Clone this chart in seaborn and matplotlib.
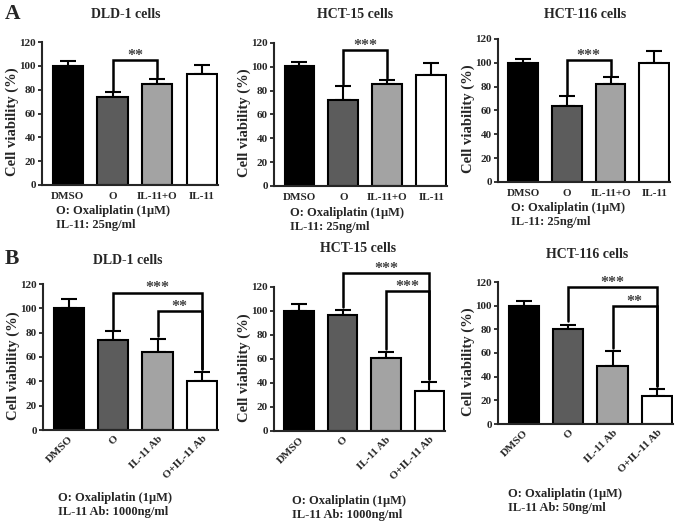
import numpy as np
import pandas as pd
import matplotlib
matplotlib.use("Agg")
import matplotlib.pyplot as plt
import seaborn as sns

sns.set_style('ticks')
plt.rcParams['font.family'] = ['Liberation Serif', 'DejaVu Serif']
plt.rcParams['font.weight'] = 'bold'
plt.rcParams['axes.labelweight'] = 'bold'

# Row A data
cats_a = ['DMSO', 'O', 'IL-11+O', 'IL-11']
dld1_a_mean = [100, 74, 85, 93]
dld1_a_sd = [4, 4, 4, 8]
hct15_a_mean = [101, 72, 86, 93]
hct15_a_sd = [3, 12, 3, 10]
hct116_a_mean = [100, 64, 82, 100]
hct116_a_sd = [3, 8, 6, 10]

# Row B data
cats_b = ['DMSO', 'O', 'IL-11 Ab', 'O+IL-11 Ab']
dld1_b_mean = [100, 74, 64, 40]
dld1_b_sd = [8, 7, 11, 8]
hct15_b_mean = [100, 97, 61, 33]
hct15_b_sd = [6, 4, 5, 8]
hct116_b_mean = [100, 80, 49, 24]
hct116_b_sd = [4, 4, 13, 6]

bar_colors = ['#000000', '#5c5c5c', '#a3a3a3', '#ffffff']

W, H = 685, 521
fig = plt.figure(figsize=(6.85, 5.21), dpi=100)


def px_axes(left, right, bottom, top):
    ax = fig.add_axes([left / W, 1 - bottom / H, (right - left) / W, (bottom - top) / H])
    ax._px = (left, right, bottom, top)
    return ax


def bracket(ax, x1, x2, y, y1, y2, label):
    ax.plot([x1, x1, x2, x2], [y1, y, y, y2], color='black', lw=1.8, clip_on=False,
            solid_joinstyle='miter')
    ax.text((x1 + x2) / 2, y + 3.5, label, ha='center', va='center', fontsize=11.5,
            color='#404040', clip_on=False)


def draw_panel(ax, cats, mean, sd, rotate=False):
    df = pd.DataFrame({'group': cats, 'viability': mean})
    sns.barplot(data=df, x='group', y='viability', hue='group', palette=bar_colors,
                order=cats, hue_order=cats, legend=False, width=0.68,
                edgecolor='black', linewidth=1.5, errorbar=None, ax=ax, zorder=2)
    ax.errorbar(np.arange(len(cats)), mean, yerr=[np.zeros(len(sd)), sd], fmt='none',
                ecolor='black', elinewidth=1.5, capsize=5.5, capthick=1.5, zorder=1)
    ax.set_ylim(0, 120)
    ax.set_xlim(-0.58, 3.36)
    ax.set_yticks(range(0, 121, 20))
    ax.set_xlabel('')
    ax.set_ylabel('Cell viability (%)', fontsize=10.5)
    left, right, bottom, top = ax._px
    ax.yaxis.set_label_coords(-23 / (right - left), 0.44)
    for s in ['left', 'bottom']:
        ax.spines[s].set_linewidth(1.5)
    sns.despine(ax=ax)
    ax.tick_params(axis='y', width=1.3, length=3, labelsize=8, pad=1.5)
    ax.tick_params(axis='x', length=0, labelsize=8, pad=5)
    if rotate:
        ax.set_xticks(range(len(cats)))
        ax.set_xticklabels(cats, rotation=45, ha='right', rotation_mode='anchor')
        ax.tick_params(axis='x', pad=3)
    for lab in ax.get_xticklabels() + ax.get_yticklabels():
        lab.set_fontweight('bold')


# Row A
axA1 = px_axes(42, 218, 185, 42)
draw_panel(axA1, cats_a, dld1_a_mean, dld1_a_sd)
bracket(axA1, 1, 2, 105, 79, 91, '**')

axA2 = px_axes(274, 447, 186, 43)
draw_panel(axA2, cats_a, hct15_a_mean, hct15_a_sd)
bracket(axA2, 1, 2, 114, 86, 91, '***')

axA3 = px_axes(498, 670, 182, 39)
draw_panel(axA3, cats_a, hct116_a_mean, hct116_a_sd)
bracket(axA3, 1, 2, 102, 73, 89, '***')

# Row B
axB1 = px_axes(43, 218, 430, 284)
draw_panel(axB1, cats_b, dld1_b_mean, dld1_b_sd, rotate=True)
bracket(axB1, 1, 3, 113, 83, 50, '***')
bracket(axB1, 2, 3, 98, 77, 50, '**')

axB2 = px_axes(274, 445, 431, 287)
draw_panel(axB2, cats_b, hct15_b_mean, hct15_b_sd, rotate=True)
bracket(axB2, 1, 3, 131.5, 103, 43, '***')
bracket(axB2, 2, 3, 116.5, 68, 43, '***')

axB3 = px_axes(498, 673, 424, 282)
draw_panel(axB3, cats_b, hct116_b_mean, hct116_b_sd, rotate=True)
bracket(axB3, 1, 3, 116, 87, 32, '***')
bracket(axB3, 2, 3, 100, 64, 32, '**')

# titles, panel letters, notes
titles = [('DLD-1 cells', 126, 15), ('HCT-15 cells', 355, 15), ('HCT-116 cells', 585, 15),
          ('DLD-1 cells', 128, 260), ('HCT-15 cells', 358, 248), ('HCT-116 cells', 587, 255)]
for t, x, y in titles:
    fig.text(x / W, 1 - y / H, t, ha='center', va='center', fontsize=10, fontweight='bold')

fig.text(5 / W, 1 - 14 / H, 'A', ha='left', va='center', fontsize=15.5, fontweight='bold')
fig.text(5 / W, 1 - 259 / H, 'B', ha='left', va='center', fontsize=15.5, fontweight='bold')

note_o = 'O: Oxaliplatin (1\u03bcM)'
notes = [(note_o, 'IL-11: 25ng/ml', 56, 211),
         (note_o, 'IL-11: 25ng/ml', 290, 213),
         (note_o, 'IL-11: 25ng/ml', 511, 208),
         (note_o, 'IL-11 Ab: 1000ng/ml', 58, 498),
         (note_o, 'IL-11 Ab: 1000ng/ml', 292, 501),
         (note_o, 'IL-11 Ab: 50ng/ml', 508, 494)]
for t1, t2, x, y in notes:
    fig.text(x / W, 1 - y / H, t1, ha='left', va='center', fontsize=9, fontweight='bold')
    fig.text(x / W, 1 - (y + 14) / H, t2, ha='left', va='center', fontsize=9,
             fontweight='bold')

fig.savefig('out.png', dpi=100, facecolor='white')
